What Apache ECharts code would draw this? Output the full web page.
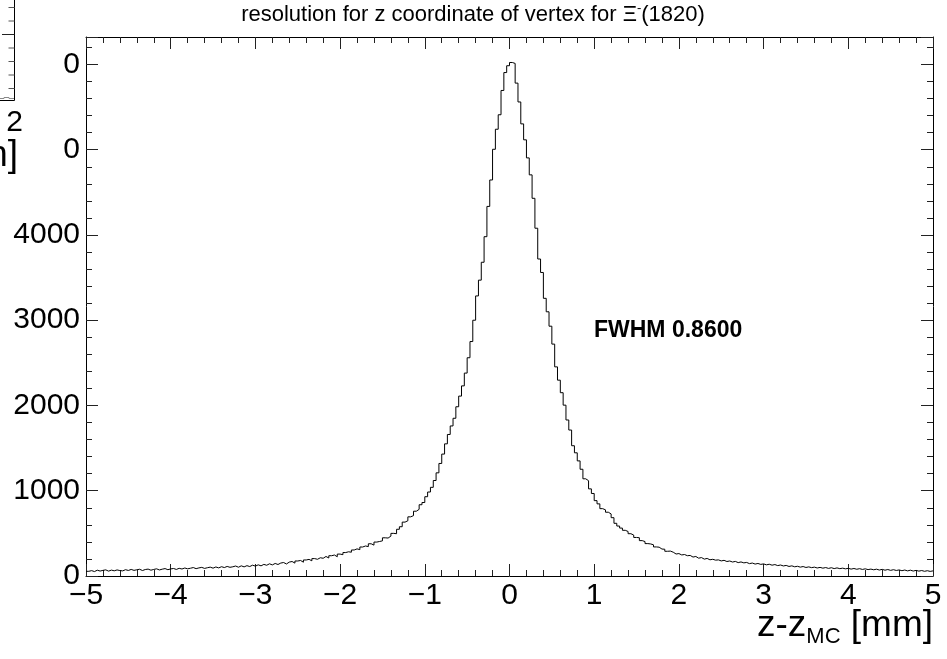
<!DOCTYPE html>
<html><head><meta charset="utf-8">
<script src="https://cdn.jsdelivr.net/npm/echarts@6/dist/echarts.min.js"></script>
<style>html,body{margin:0;padding:0;background:#fff}#c{width:947px;height:659px}</style>
</head><body><div id="c"></div>
<script>
// ---- data ----
const xMin = -5;
const xMax = 5;
const yMax = 6322;
const xTickStep = 1;
const yTickStep = 1000;
const yMinorStep = 200;
const titleText = 'resolution for z coordinate of vertex for ';
const fwhmText = 'FWHM 0.8600';
// counts per bin (300 bins from -5 to 5 mm)
const binCounts = [
  55, 63, 52, 68, 58, 66, 72, 57, 69, 61, 71, 64, 60, 74, 65, 77, 66, 73, 79, 64, 76, 81, 68, 77, 84, 71, 80, 87, 74, 83,
  88, 77, 90, 82, 94, 84, 91, 99, 86, 95, 101, 89, 97, 104, 92, 106, 95, 109, 99, 112, 102, 108, 117, 103, 119, 107, 121, 111, 127, 116,
  131, 119, 136, 126, 143, 130, 147, 135, 152, 158, 141, 163, 170, 151, 176, 182, 162, 188, 195, 178, 204, 196, 214, 208, 229, 211, 238, 246, 226, 257,
  250, 275, 284, 279, 305, 318, 309, 340, 352, 345, 378, 362, 398, 405, 412, 448, 445, 468, 500, 496, 548, 578, 632, 648, 694, 708, 760, 782, 836, 862,
  930, 985, 1040, 1120, 1210, 1320, 1430, 1550, 1660, 1760, 1850, 1985, 2110, 2230, 2380, 2560, 2750, 3000, 3285, 3470, 3680, 3980, 4335, 4645, 5005, 5240, 5410, 5695, 5905, 5985,
  6023, 6012, 5781, 5560, 5303, 5116, 4904, 4705, 4430, 4079, 3718, 3560, 3257, 3099, 2930, 2720, 2453, 2297, 2150, 2004,
  1830, 1712, 1528, 1445, 1350, 1252, 1140, 1118, 1022, 968, 884, 846, 790, 776, 748, 728, 684, 618, 586, 562, 536, 522, 496, 480, 452, 449, 415, 404, 380, 376,
  366, 341, 338, 316, 314, 290, 292, 279, 258, 263, 247, 252, 238, 241, 222, 229, 209, 216, 198, 206, 190, 196, 186, 189, 177, 184, 170, 176, 164, 171,
  157, 165, 154, 159, 145, 152, 140, 147, 136, 142, 131, 138, 127, 134, 122, 129, 118, 124, 112, 119,
  108, 114, 104, 111, 100, 107, 98, 104, 94, 101, 92, 99, 89, 97, 87, 95, 86, 92, 84, 90, 81, 88, 79, 86, 77, 84, 75, 81, 73, 80,
  70, 78, 68, 76, 66, 74, 65, 71, 62, 70, 60, 68, 58, 66, 57, 64, 55, 62, 54, 60
];

// ---- build ----
const FONT = 'Liberation Sans';
const binWidth = (xMax - xMin) / binCounts.length;
const stepData = binCounts.map((v, i) => [xMin + i * binWidth, v]);
stepData.push([xMax, binCounts[binCounts.length - 1]]);

const lineBlack = { color: '#000', width: 1 };
function xAx(pos, labels) {
  return {
    type: 'value', min: xMin, max: xMax, interval: xTickStep, position: pos,
    axisLine: { show: true, onZero: false, lineStyle: lineBlack },
    axisTick: { show: true, inside: true, length: 12, lineStyle: { color: '#222', width: 1 } },
    minorTick: { show: true, splitNumber: 5, length: 6, lineStyle: { color: '#222', width: 1 } },
    axisLabel: labels ? {
      show: true, margin: 5, fontSize: 30, fontFamily: FONT, color: '#000',
      formatter: v => String(v).replace('-', '\u2212')
    } : { show: false },
    splitLine: { show: false }, minorSplitLine: { show: false }
  };
}
function yAx(pos, step, len, labels, line) {
  return {
    type: 'value', min: 0, max: yMax, interval: step, position: pos,
    axisLine: { show: line, onZero: false, lineStyle: lineBlack },
    axisTick: { show: true, inside: true, length: len, lineStyle: { color: '#222', width: 1 } },
    axisLabel: labels ? {
      show: true, margin: 6, fontSize: 30, fontFamily: FONT, color: '#000',
      formatter: v => (v % yTickStep === 0 ? String(v) : '')
    } : { show: false },
    splitLine: { show: false }
  };
}

const chart = echarts.init(document.getElementById('c'), null, { renderer: 'canvas' });
chart.setOption({
  animation: false,
  backgroundColor: '#fff',
  grid: { left: 86, right: 14, top: 37, bottom: 83, containLabel: false },
  xAxis: [xAx('bottom', true), xAx('top', false)],
  yAxis: [
    yAx('left', yTickStep, 12, true, true),
    yAx('left', yMinorStep, 6, false, false),
    yAx('right', yTickStep, 12, false, true),
    yAx('right', yMinorStep, 6, false, false)
  ],
  series: [{
    type: 'line', step: 'end', xAxisIndex: 0, yAxisIndex: 0,
    data: stepData, showSymbol: false, symbol: 'none',
    lineStyle: { color: '#000', width: 1 }, clip: true, silent: true
  }],
  graphic: { elements: [
    { type: 'text', z: 100, x: 473, y: 15, style: {
        text: '{a|' + titleText + 'Ξ}{s|-}{a|(1820)}', align: 'center', verticalAlign: 'middle',
        rich: { a: { fontSize: 22, fontFamily: FONT, fill: '#000', lineHeight: 26 },
                s: { fontSize: 13, fontFamily: FONT, fill: '#000', lineHeight: 12, verticalAlign: 'top' } }
    } },
    { type: 'text', z: 100, x: 594, y: 331, style: {
        text: fwhmText, fontSize: 23, fontWeight: 'bold', fontFamily: FONT, fill: '#000', verticalAlign: 'middle'
    } },
    { type: 'text', z: 100, x: 933, y: 648, style: {
        text: '{m|z-z}{s|MC}{m| [mm]}', align: 'right', verticalAlign: 'bottom',
        rich: { m: { fontSize: 37, fontFamily: FONT, fill: '#000', lineHeight: 44 },
                s: { fontSize: 22, fontFamily: FONT, fill: '#000', lineHeight: 18, verticalAlign: 'bottom' } }
    } },
    // fragment of an overlapping neighbouring pad (top-left)
    { type: 'rect', z: 100, shape: { x: 0, y: 0, width: 64, height: 185 }, style: { fill: '#fff' } },
    { type: 'line', z: 101, shape: { x1: 14.5, y1: 0, x2: 14.5, y2: 100.5 }, style: { stroke: '#000', lineWidth: 1 } },
    { type: 'line', z: 101, shape: { x1: 0, y1: 100.5, x2: 14.5, y2: 100.5 }, style: { stroke: '#000', lineWidth: 1 } },
    { type: 'line', z: 101, shape: { x1: 2, y1: 34.5, x2: 14.5, y2: 34.5 }, style: { stroke: '#222', lineWidth: 1 } },
    { type: 'line', z: 101, shape: { x1: 8.5, y1: 7.5, x2: 14.5, y2: 7.5 }, style: { stroke: '#555', lineWidth: 1 } },
    { type: 'line', z: 101, shape: { x1: 8.5, y1: 21, x2: 14.5, y2: 21 }, style: { stroke: '#555', lineWidth: 1 } },
    { type: 'line', z: 101, shape: { x1: 8.5, y1: 48, x2: 14.5, y2: 48 }, style: { stroke: '#555', lineWidth: 1 } },
    { type: 'line', z: 101, shape: { x1: 8.5, y1: 61.5, x2: 14.5, y2: 61.5 }, style: { stroke: '#555', lineWidth: 1 } },
    { type: 'line', z: 101, shape: { x1: 8.5, y1: 75, x2: 14.5, y2: 75 }, style: { stroke: '#555', lineWidth: 1 } },
    { type: 'line', z: 101, shape: { x1: 8.5, y1: 88.5, x2: 14.5, y2: 88.5 }, style: { stroke: '#555', lineWidth: 1 } },
    { type: 'polyline', z: 101, shape: { points: [[0, 98.5], [4, 98.5], [4, 97.5], [9, 97.5], [9, 98.5], [14, 98.5]] }, style: { stroke: '#888', lineWidth: 1, fill: null } },
    { type: 'text', z: 101, x: 14.5, y: 108, style: { text: '2', fontSize: 30, fontFamily: FONT, fill: '#000', align: 'center', verticalAlign: 'top' } },
    { type: 'text', z: 101, x: 18, y: 174, style: { text: 'mm]', fontSize: 37, fontFamily: FONT, fill: '#000', align: 'right', verticalAlign: 'bottom' } }
  ] }
});
</script>
</body></html>
